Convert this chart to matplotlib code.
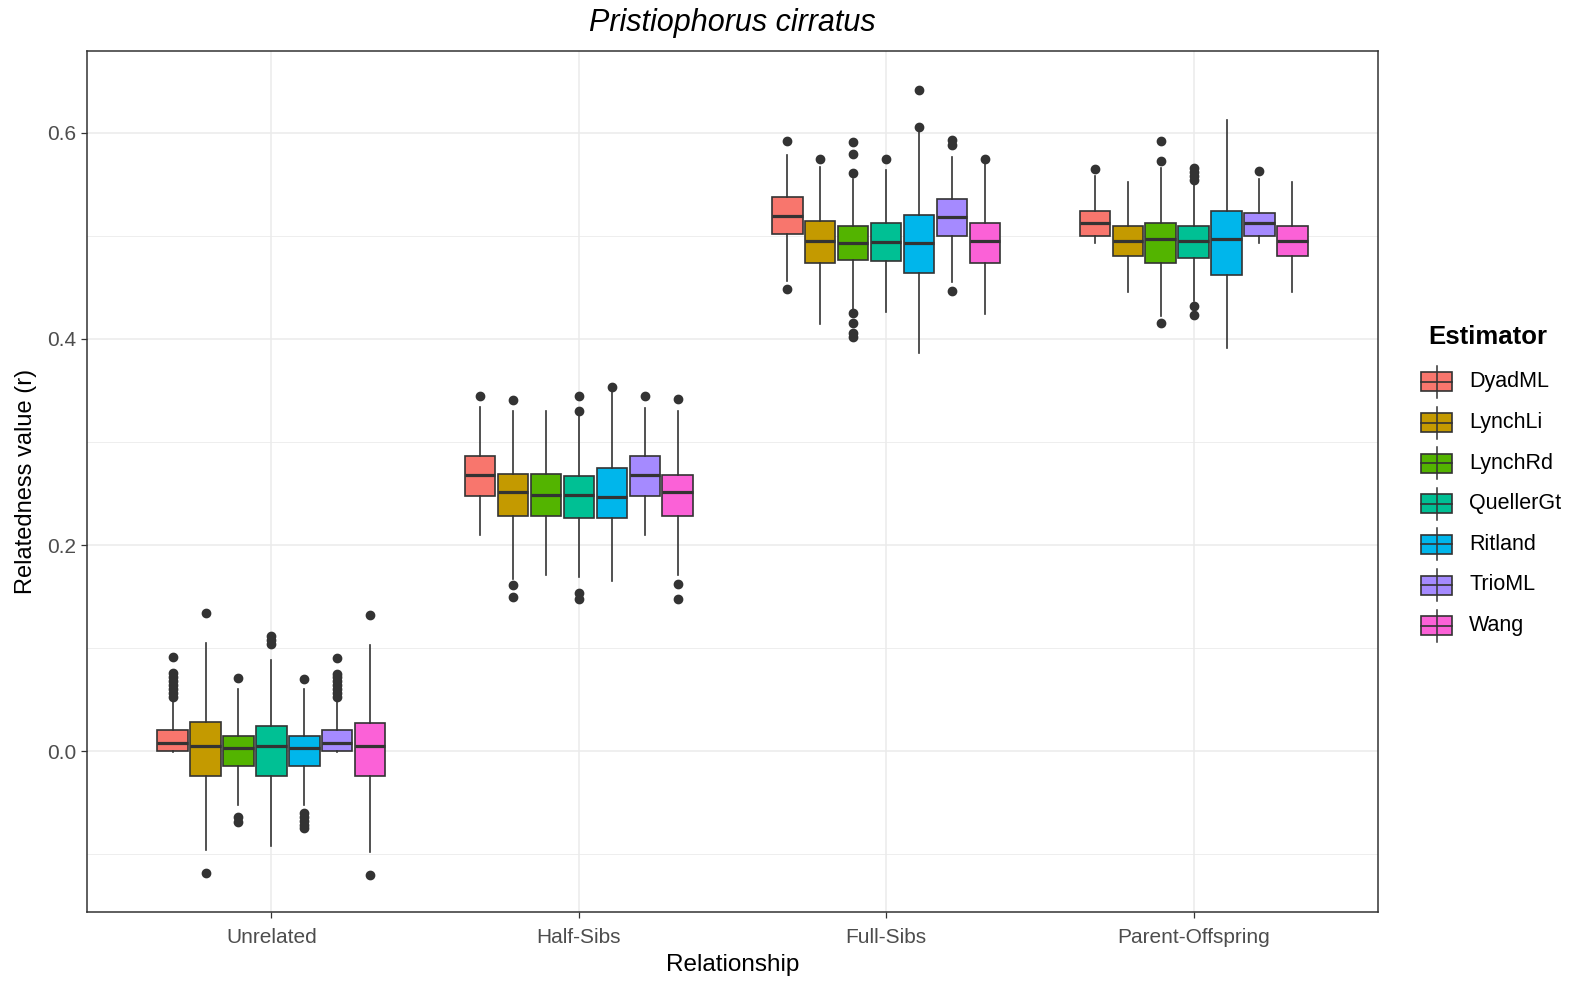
import matplotlib
matplotlib.use("Agg")
import matplotlib.pyplot as plt
from matplotlib.patches import Rectangle
from matplotlib.lines import Line2D

plt.rcParams['font.family'] = ['Liberation Sans', 'DejaVu Sans']

relationships = ['Unrelated', 'Half-Sibs', 'Full-Sibs', 'Parent-Offspring']
estimators = ['DyadML', 'LynchLi', 'LynchRd', 'QuellerGt', 'Ritland', 'TrioML', 'Wang']
colors = ['#F8766D', '#C49A00', '#53B400', '#00C094', '#00B6EB', '#A58AFF', '#FB61D7']

# box stats, one row per relationship, one column per estimator
whis_lo = [[-0.001, -0.096, -0.052, -0.092, -0.052, -0.001, -0.098],
           [0.210, 0.167, 0.171, 0.169, 0.165, 0.210, 0.171],
           [0.456, 0.415, 0.428, 0.426, 0.386, 0.455, 0.424],
           [0.493, 0.446, 0.422, 0.437, 0.391, 0.493, 0.446]]
q1 = [[0.000, -0.024, -0.015, -0.024, -0.015, 0.000, -0.024],
      [0.248, 0.228, 0.228, 0.226, 0.226, 0.248, 0.228],
      [0.502, 0.474, 0.477, 0.476, 0.464, 0.500, 0.474],
      [0.500, 0.481, 0.474, 0.479, 0.462, 0.500, 0.481]]
med = [[0.0075, 0.005, 0.003, 0.005, 0.003, 0.0075, 0.005],
       [0.268, 0.251, 0.249, 0.249, 0.247, 0.268, 0.251],
       [0.519, 0.4955, 0.4935, 0.494, 0.4935, 0.518, 0.4955],
       [0.513, 0.4955, 0.497, 0.4955, 0.497, 0.513, 0.4955]]
q3 = [[0.020, 0.0285, 0.015, 0.024, 0.015, 0.020, 0.027],
      [0.286, 0.269, 0.269, 0.267, 0.275, 0.286, 0.268],
      [0.5375, 0.515, 0.510, 0.513, 0.520, 0.536, 0.513],
      [0.524, 0.510, 0.513, 0.510, 0.524, 0.522, 0.510]]
whis_hi = [[0.050, 0.105, 0.060, 0.088, 0.060, 0.050, 0.103],
           [0.334, 0.330, 0.330, 0.326, 0.349, 0.333, 0.330],
           [0.579, 0.567, 0.555, 0.564, 0.603, 0.577, 0.570],
           [0.558, 0.552, 0.566, 0.553, 0.613, 0.555, 0.552]]
outliers = [
    [[0.052, 0.056, 0.060, 0.064, 0.068, 0.072, 0.076, 0.091],
     [0.134, -0.118],
     [0.071, -0.064, -0.069],
     [0.104, 0.108, 0.112],
     [0.070, -0.060, -0.064, -0.068, -0.072, -0.075],
     [0.052, 0.056, 0.060, 0.064, 0.068, 0.072, 0.075, 0.090],
     [0.132, -0.120]],
    [[0.345], [0.341, 0.161, 0.150], [], [0.345, 0.330, 0.153, 0.148],
     [0.353], [0.345], [0.342, 0.162, 0.148]],
    [[0.592, 0.449], [0.575], [0.591, 0.580, 0.561, 0.425, 0.416, 0.406, 0.402],
     [0.575], [0.606, 0.642], [0.593, 0.588, 0.447], [0.575]],
    [[0.565], [], [0.592, 0.573, 0.416], [0.566, 0.562, 0.558, 0.554, 0.432, 0.423],
     [], [0.563], []],
]

line_col = '#333333'
fig = plt.figure(figsize=(15.69, 9.81), dpi=100)
ax = fig.add_axes([87 / 1569, 1 - 912 / 981, 1291 / 1569, 861 / 981])

n_est = len(estimators)
step = 0.75 / n_est
for g in range(len(relationships)):
    for e in range(n_est):
        pos = g + 1 + (e - (n_est - 1) / 2) * step
        st = dict(whislo=whis_lo[g][e], q1=q1[g][e], med=med[g][e], q3=q3[g][e],
                  whishi=whis_hi[g][e], fliers=outliers[g][e])
        ax.bxp([st], positions=[pos], widths=step * 0.92, patch_artist=True,
               showcaps=False,
               boxprops=dict(facecolor=colors[e], edgecolor=line_col, linewidth=1.2),
               whiskerprops=dict(color=line_col, linewidth=1.2),
               medianprops=dict(color=line_col, linewidth=2.3),
               flierprops=dict(marker='o', markerfacecolor=line_col, markeredgecolor=line_col,
                               markersize=6))

ax.set_xlim(0.4, 4.6)
ax.set_ylim(-0.1563, 0.6796)
ax.set_xticks(range(1, 5))
ax.set_xticklabels(relationships)
ax.set_yticks([0.0, 0.2, 0.4, 0.6])
ax.set_yticklabels(['0.0', '0.2', '0.4', '0.6'])
ax.set_yticks([-0.1, 0.1, 0.3, 0.5], minor=True)
ax.grid(True, which='major', color='#EBEBEB', linewidth=1.1)
ax.grid(True, which='minor', axis='y', color='#EBEBEB', linewidth=0.6)
ax.set_axisbelow(True)
ax.tick_params(axis='both', which='major', length=4.5, width=0.9, color=line_col,
               labelcolor='#4D4D4D', labelsize=15, pad=3)
ax.tick_params(axis='x', which='major', pad=7)
ax.tick_params(axis='y', which='minor', length=0)
ax.tick_params(axis='x', which='minor', length=0)
for sp in ax.spines.values():
    sp.set_color(line_col)
    sp.set_linewidth(1.1)

ax.set_xlabel('Relationship', fontsize=17.5, va='center')
ax.xaxis.set_label_coords(0.5, -(965 - 912) / 861)
ax.set_ylabel('Relatedness value (r)', fontsize=17, va='center')
ax.yaxis.set_label_coords(-(87 - 26) / 1291, (912 - 481) / 861)
fig.text(732 / 1569, 1 - 23 / 981, 'Pristiophorus cirratus', style='italic',
         fontsize=22, ha='center', va='center')

# legend
fig.text(1428 / 1569, 1 - 337 / 981, 'Estimator', fontsize=18.5, fontweight='bold',
         ha='left', va='center')
for i, (name, c) in enumerate(zip(estimators, colors)):
    yc = 1 - (382 + i * 40.6) / 981
    x0, x1 = 1421 / 1569, 1452 / 1569
    xm = (x0 + x1) / 2
    h = 19 / 981
    fig.add_artist(Line2D([xm, xm], [yc - 16 / 981, yc + 16 / 981], color=line_col, linewidth=1.1))
    fig.add_artist(Rectangle((x0, yc - h / 2), x1 - x0, h, facecolor=c, edgecolor=line_col,
                             linewidth=1.2, transform=fig.transFigure))
    fig.add_artist(Line2D([x0, x1], [yc, yc], color=line_col, linewidth=1.2))
    fig.text(1469 / 1569, yc, name, fontsize=15.5, ha='left', va='center')

fig.savefig('out.png', dpi=100)
